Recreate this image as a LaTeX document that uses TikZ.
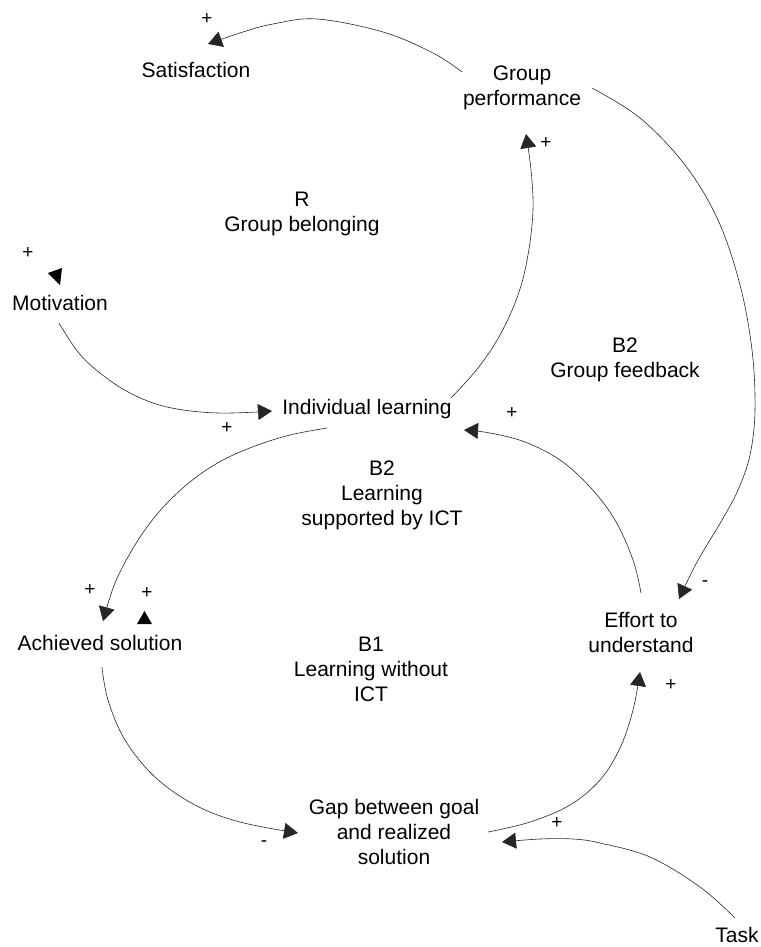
\documentclass[tikz,border=0pt]{standalone}
\usepackage{fontspec}
\setmainfont{Liberation Sans}
\usetikzlibrary{arrows.meta}
\begin{document}
\begin{tikzpicture}[x=1pt,y=-1pt,
  every node/.style={font=\fontsize{21}{25}\selectfont, inner sep=0pt, align=center},
  var/.style={},
  loopname/.style={},
  pol/.style={font=\fontsize{19}{22}\selectfont},
  link/.style={line width=0.6pt, black!85, -{Triangle[length=14pt,width=16pt]}},
  head/.style={fill=black}]
\useasboundingbox (0,0) rectangle (760,947);

% variables
\node[var] (sat) at (196,70) {Satisfaction};
\node[var] (gp) at (522,88) {Group\\performance};
\node[var] (mot) at (60,303) {Motivation};
\node[var] (il) at (367,409) {Individual learning};
\node[var] (ach) at (100,643) {Achieved solution};
\node[var] (eff) at (641,632) {Effort to\\understand};
\node[var] (gap) at (394,832) {Gap between goal\\and realized\\solution};
\node[var] (task) at (737,935) {Task};

% loop names
\node[loopname] (lr) at (302,214) {R\\Group belonging};
\node[loopname] (lb2g) at (625,360) {B2\\Group feedback};
\node[loopname] (lb2l) at (382,495) {B2\\Learning\\supported by ICT};
\node[loopname] (lb1) at (371,669) {B1\\Learning without\\ICT};

% links
\draw[link] plot[smooth, tension=0.6] coordinates {([shift={(-60,-16)}]gp.center) (433,53) (383,32) (317,19) (273,24) (243,32) ([shift={(12,-26)}]sat.center)};
\draw[link] plot[smooth, tension=0.6] coordinates {([shift={(84,-11)}]il.center) (478,368) (500,335) (518,295) (528,255) (533,210) (531,170) ([shift={(4,46)}]gp.center)};
\draw[link] plot[smooth, tension=0.6] coordinates {([shift={(70,0)}]gp.center) (640,118) (685,165) (718,220) (740,285) (752,350) (755,410) (750,455) (738,490) (722,520) (697,562) ([shift={(38,-33)}]eff.center)};
\draw[link] plot[smooth, tension=0.6] coordinates {([shift={(-1,20)}]mot.center) (78,352) (100,373) (130,393) (167,407) (217,413) ([shift={(-95,2)}]il.center)};
\draw[link] plot[smooth, tension=0.6] coordinates {([shift={(-40,19)}]il.center) (290,435) (255,446) (223,460) (195,478) (170,500) (150,523) (132,550) (115,583) ([shift={(3,-22)}]ach.center)};
\draw[link] plot[smooth, tension=0.6] coordinates {([shift={(0,-39)}]eff.center) (633,560) (615,520) (590,487) (560,460) (525,442) (490,433) ([shift={(97,21)}]il.center)};
\draw[link] plot[smooth, tension=0.6] coordinates {([shift={(2,24)}]ach.center) (108,700) (125,740) (155,777) (195,805) (240,822) ([shift={(-96,1)}]gap.center)};
\draw[link] plot[smooth, tension=0.6] coordinates {([shift={(94,0)}]gap.center) (530,822) (570,805) (600,780) (620,748) (633,710) ([shift={(-1,40)}]eff.center)};
\draw[link] plot[smooth, tension=0.6] coordinates {([shift={(-2,-17)}]task.center) (700,887) (650,857) (600,843) (573,839) (540,839) ([shift={(108,10)}]gap.center)};

% arrowheads without a line
\fill[head] (48,273) -- (62,268) -- (60,285) -- cycle;
\fill[head] (137,624) -- (152,624) -- (144.5,611) -- cycle;

% polarities
\node[pol] (p1) at (207,19) {+};
\node[pol] (p2) at (546,143) {+};
\node[pol] (p3) at (28,253) {+};
\node[pol] (p4) at (227,428) {+};
\node[pol] (p5) at (512,413) {+};
\node[pol] (p6) at (90,590) {+};
\node[pol] (p7) at (147,593) {+};
\node[pol] (p8) at (705,584) {-};
\node[pol] (p9) at (671,685) {+};
\node[pol] (p10) at (264,844) {-};
\node[pol] (p11) at (557,823) {+};
\end{tikzpicture}
\end{document}
